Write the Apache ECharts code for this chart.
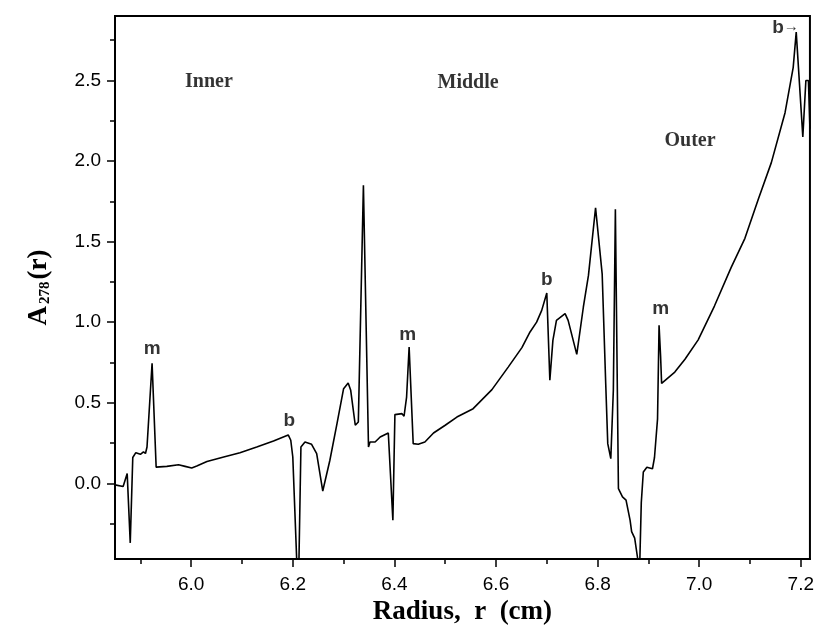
<!DOCTYPE html>
<html>
<head>
<meta charset="utf-8">
<script src="https://cdn.jsdelivr.net/npm/echarts@6/dist/echarts.min.js"></script>
<style>html,body{margin:0;padding:0;background:#fff;}#c{width:817px;height:643px;}</style>
</head>
<body>
<div id="c"></div>
<script>
// Radius (cm)
const radius = [5.850,5.866,5.874,5.880,5.885,5.891,5.900,5.906,5.910,5.913,5.923,5.931,5.952,5.975,5.988,6.001,6.011,6.031,6.064,6.096,6.129,6.162,6.191,6.196,6.200,6.208,6.212,6.216,6.224,6.237,6.247,6.259,6.273,6.287,6.300,6.309,6.314,6.323,6.329,6.339,6.349,6.352,6.362,6.372,6.388,6.397,6.401,6.415,6.419,6.424,6.429,6.437,6.447,6.460,6.477,6.500,6.523,6.555,6.592,6.624,6.651,6.667,6.680,6.690,6.700,6.706,6.712,6.719,6.736,6.742,6.759,6.772,6.782,6.796,6.809,6.816,6.820,6.826,6.831,6.835,6.841,6.849,6.856,6.864,6.867,6.873,6.879,6.883,6.886,6.890,6.897,6.908,6.912,6.918,6.921,6.924,6.926,6.952,6.972,6.998,7.030,7.063,7.090,7.116,7.142,7.169,7.185,7.191,7.204,7.210,7.215,7.218];
// A278(r)
const absorb = [-0.01,-0.02,0.06,-0.37,0.16,0.19,0.18,0.195,0.185,0.225,0.745,0.10,0.105,0.115,0.105,0.095,0.107,0.135,0.163,0.19,0.225,0.262,0.30,0.267,0.163,-0.50,-0.50,0.225,0.256,0.242,0.184,-0.048,0.143,0.37,0.587,0.622,0.577,0.36,0.38,1.85,0.225,0.256,0.256,0.287,0.312,-0.23,0.426,0.432,0.416,0.535,0.846,0.246,0.242,0.256,0.312,0.36,0.411,0.463,0.581,0.721,0.842,0.939,1.0,1.073,1.181,0.639,0.887,1.011,1.053,1.011,0.80,1.094,1.29,1.71,1.30,0.618,0.246,0.153,0.577,1.70,-0.033,-0.085,-0.105,-0.23,-0.30,-0.34,-0.47,-0.50,-0.12,0.07,0.10,0.09,0.16,0.40,0.98,0.79,0.62,0.69,0.77,0.89,1.10,1.34,1.52,1.76,1.99,2.30,2.58,2.80,2.15,2.50,2.50,2.20];

const xMajorTicks = [6.0,6.2,6.4,6.6,6.8,7.0,7.2];
const xMinorTicks = [5.9,6.1,6.3,6.5,6.7,6.9,7.1];
const yMajorTicks = [0.0,0.5,1.0,1.5,2.0,2.5];
const yMinorTicks = [-0.25,0.25,0.75,1.25,1.75,2.25,2.75];

// region names
const regionText = ['Inner','Middle','Outer'];
const regionX = [6.035,6.545,6.982];
const regionY = [2.494,2.488,2.128];
// peak markers
const markText = ['m','b','m','b','m','b'];
const markX = [5.923,6.193,6.426,6.700,6.924,7.170];
const markY = [0.836,0.390,0.922,1.264,1.08,2.83];

const xMin = 5.85, xMax = 7.218, yMin = -0.47, yMax = 2.9;

const chart = echarts.init(document.getElementById('c'), null, {renderer:'canvas'});
const sans = 'Liberation Sans, Arial, sans-serif';
const serif = 'Liberation Serif, Times New Roman, serif';

chart.setOption({
  animation:false,
  backgroundColor:'#fff',
  grid:{left:115,top:16,right:7,bottom:84,show:true,borderColor:'#000',borderWidth:2,backgroundColor:'transparent'},
  xAxis:[
    {
      type:'value',min:xMin,max:xMax,position:'bottom',splitLine:{show:false},
      axisLine:{show:true,onZero:false,lineStyle:{color:'#000',width:2}},
      name:'Radius,  r  (cm)',nameLocation:'middle',nameGap:36,
      nameTextStyle:{fontFamily:serif,fontWeight:'bold',fontSize:27,color:'#000'},
      axisTick:{show:true,inside:false,length:8,lineStyle:{color:'#000',width:1.5},customValues:xMajorTicks},
      axisLabel:{show:true,customValues:xMajorTicks,margin:16,fontFamily:sans,fontSize:19,color:'#000',formatter:v=>v.toFixed(1)}
    },
    {
      type:'value',min:xMin,max:xMax,position:'bottom',splitLine:{show:false},
      axisLine:{show:false,onZero:false},
      axisTick:{show:true,inside:false,length:5,lineStyle:{color:'#000',width:1.5},customValues:xMinorTicks},
      axisLabel:{show:false}
    }
  ],
  yAxis:[
    {
      type:'value',min:yMin,max:yMax,position:'left',splitLine:{show:false},
      axisLine:{show:true,onZero:false,lineStyle:{color:'#000',width:2}},
      name:'{a|A}{s|278}{a|(r)}',nameLocation:'middle',nameGap:62,nameRotate:90,
      nameTextStyle:{rich:{
        a:{fontFamily:serif,fontWeight:'bold',fontSize:27,color:'#000'},
        s:{fontFamily:serif,fontWeight:'bold',fontSize:15,color:'#000',verticalAlign:'bottom',padding:[10,2,0,2]}
      }},
      axisTick:{show:true,inside:false,length:8,lineStyle:{color:'#000',width:1.5},customValues:yMajorTicks},
      axisLabel:{show:true,customValues:yMajorTicks,margin:14,fontFamily:sans,fontSize:19,color:'#000',formatter:v=>v.toFixed(1)}
    },
    {
      type:'value',min:yMin,max:yMax,position:'left',splitLine:{show:false},
      axisLine:{show:false,onZero:false},
      axisTick:{show:true,inside:false,length:5,lineStyle:{color:'#000',width:1.5},customValues:yMinorTicks},
      axisLabel:{show:false}
    }
  ],
  series:[
    {
      type:'line',xAxisIndex:0,yAxisIndex:0,
      data:radius.map((r,i)=>[r,absorb[i]]),
      showSymbol:false,symbol:'none',smooth:false,clip:true,
      lineStyle:{color:'#000',width:1.6},
      z:3
    },
    {
      type:'scatter',xAxisIndex:0,yAxisIndex:0,symbolSize:0,silent:true,
      data:regionText.map((t,i)=>({value:[regionX[i],regionY[i]],name:t})),
      label:{show:true,position:'inside',formatter:p=>p.name,fontFamily:serif,fontWeight:'bold',fontSize:20,color:'#000'}
    },
    {
      type:'scatter',xAxisIndex:0,yAxisIndex:0,symbolSize:0,silent:true,
      data:markText.map((t,i)=>({value:[markX[i],markY[i]],name:t})),
      label:{show:true,position:'inside',fontFamily:sans,fontWeight:'bold',fontSize:19,color:'#000',
        formatter:p=>p.dataIndex===markText.length-1?'{b|'+p.name+'}{ar|→}':p.name,
        rich:{b:{fontFamily:sans,fontWeight:'bold',fontSize:19,color:'#000'},ar:{fontFamily:sans,fontWeight:'bold',fontSize:15,color:'#000'}}}
    }
  ]
});
</script>
</body>
</html>
